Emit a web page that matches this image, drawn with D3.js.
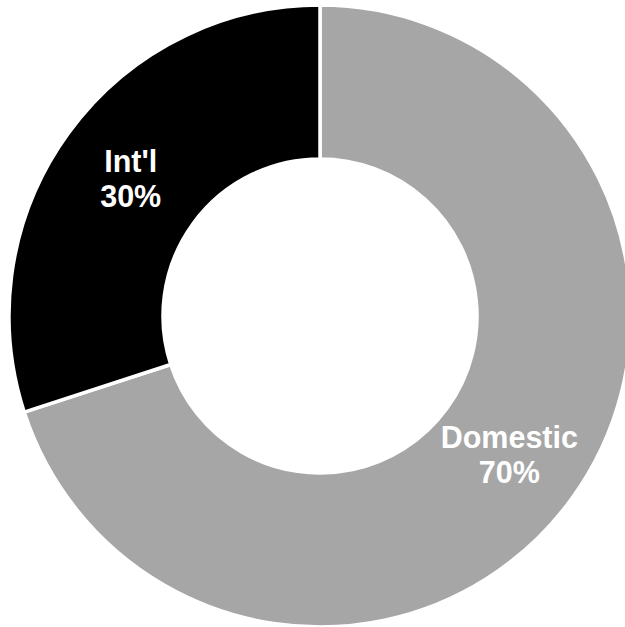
<!DOCTYPE html>
<html>
<head>
<meta charset="utf-8">
<script src="https://cdn.jsdelivr.net/npm/d3@7"></script>
<style>
  html, body { margin: 0; padding: 0; background: #fff; overflow: hidden; }
  .slice-label { font-family: "Liberation Sans", Arial, sans-serif; font-weight: bold; font-size: 30.5px; fill: #fff; }
</style>
</head>
<body>
<div id="chart"></div>
<script>
// data
const categories = ['Domestic', "Int'l"];
const shares = [70, 30];
const colors = ['#a6a6a6', '#000000'];

const width = 625;
const height = 627;
const center = { x: 320, y: 316 };
const outerRadius = 311;
const innerRadius = 157;

const svg = d3
  .select('#chart')
  .append('svg')
  .attr('width', width)
  .attr('height', height)
  .append('g')
  .attr('transform', `translate(${center.x},${center.y})`);

const slices = d3
  .pie()
  .sort(null)
  .value(d => d.value)(categories.map((name, i) => ({ name, value: shares[i], color: colors[i] })));

const arc = d3.arc().innerRadius(innerRadius).outerRadius(outerRadius);

svg
  .selectAll('path')
  .data(slices)
  .join('path')
  .attr('d', arc)
  .attr('fill', d => d.data.color)
  .attr('stroke', '#fff')
  .attr('stroke-width', 3.5);

// labels sit on the slice centroid, two lines
const labels = svg
  .selectAll('text')
  .data(slices)
  .join('text')
  .attr('class', 'slice-label')
  .attr('text-anchor', 'middle')
  .attr('transform', d => `translate(${arc.centroid(d)})`);

labels.append('tspan').attr('x', 0).attr('y', -6).text(d => d.data.name);
labels.append('tspan').attr('x', 0).attr('y', 29).text(d => `${d.data.value}%`);
</script>
</body>
</html>
